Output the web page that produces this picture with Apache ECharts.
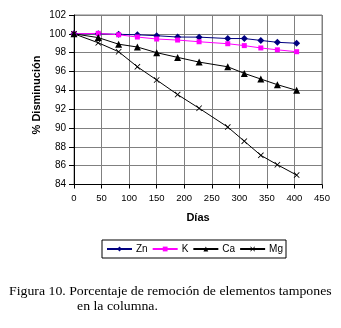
<!DOCTYPE html>
<html>
<head>
<meta charset="utf-8">
<script src="https://cdn.jsdelivr.net/npm/echarts@6/dist/echarts.min.js"></script>
<style>
  html, body { margin: 0; padding: 0; background: #fff; }
  #chart { width: 341px; height: 328px; }
</style>
</head>
<body>
<div id="chart"></div>
<script>
// Sampling days
const days = [0, 44, 81, 115, 150, 188, 227, 279, 309, 339, 369, 404];

// Percentage decrease per element
const zn = [100, 100, 99.95, 99.9, 99.8, 99.66, 99.65, 99.5, 99.5, 99.3, 99.1, 99.0];
const k  = [100, 100.05, 99.9, 99.66, 99.45, 99.34, 99.16, 98.95, 98.75, 98.5, 98.3, 98.1];
const ca = [100, 99.6, 98.9, 98.6, 98.0, 97.5, 97.0, 96.5, 95.8, 95.2, 94.6, 94.0];
const mg = [100, 99.05, 98.1, 96.5, 95.1, 93.55, 92.1, 90.1, 88.6, 87.1, 86.1, 85.0];

const seriesNames = ['Zn', 'K', 'Ca', 'Mg'];

const xTicks = { min: 0, max: 450, interval: 50 };
const yTicks = { min: 84, max: 102, interval: 2 };

const yTitle = '% Disminución';
const xTitle = 'Días';
const captionLines = [
  'Figura 10. Porcentaje de remoción de elementos tampones',
  'en la columna.'
];

const sans = 'Arial, "Liberation Sans", sans-serif';
const serif = '"Liberation Serif", "Times New Roman", serif';
const crossPath = 'path://M0,1L1,0L5,4L9,0L10,1L6,5L10,9L9,10L5,6L1,10L0,9L4,5Z';

function pairs(vals) {
  return days.map((d, i) => [d, vals[i]]);
}

function lineSeries(name, vals, color, symbol, size) {
  return {
    name: name,
    type: 'line',
    data: pairs(vals),
    symbol: symbol,
    symbolSize: size,
    showAllSymbol: true,
    lineStyle: { color: color, width: 1 },
    itemStyle: { color: color },
    emphasis: { disabled: true },
    animation: false
  };
}

const chart = echarts.init(document.getElementById('chart'), null, { renderer: 'canvas' });

chart.setOption({
  backgroundColor: '#fff',
  animation: false,
  textStyle: { fontFamily: sans },
  grid: {
    left: 74, right: 19, top: 15, bottom: 143.5,
    show: true, borderColor: '#808080', borderWidth: 1
  },
  xAxis: {
    type: 'value',
    min: xTicks.min, max: xTicks.max, interval: xTicks.interval,
    name: xTitle,
    nameLocation: 'middle',
    nameGap: 28,
    nameTextStyle: { fontSize: 11, fontWeight: 'bold', color: '#000', fontFamily: sans },
    axisLine: { show: true, onZero: false, lineStyle: { color: '#000', width: 1 } },
    axisTick: { show: true, length: 4, lineStyle: { color: '#000' } },
    axisLabel: { fontSize: 9.5, color: '#000', margin: 9 },
    splitLine: { show: true, lineStyle: { color: '#808080', width: 1 } }
  },
  yAxis: {
    type: 'value',
    min: yTicks.min, max: yTicks.max, interval: yTicks.interval,
    axisLine: { show: true, onZero: false, lineStyle: { color: '#000', width: 1 } },
    axisTick: { show: true, length: 5, lineStyle: { color: '#000' } },
    axisLabel: { fontSize: 10, color: '#000', margin: 8 },
    splitLine: { show: true, lineStyle: { color: '#808080', width: 1 } }
  },
  legend: {
    data: seriesNames,
    left: 102, top: 240,
    padding: [4, 3, 4, 4],
    itemGap: 4,
    itemWidth: 25, itemHeight: 6,
    borderColor: '#000', borderWidth: 1,
    textStyle: { fontSize: 10, color: '#000', padding: [0, 0, 0, -1] },
    selectedMode: false
  },
  graphic: [
    {
      type: 'text',
      x: 37, y: 95,
      rotation: Math.PI / 2,
      style: {
        text: yTitle,
        fontSize: 11, fontWeight: 'bold', fontFamily: sans, fill: '#000',
        align: 'center', verticalAlign: 'middle'
      }
    },
    {
      type: 'text',
      x: 9, y: 286,
      scaleX: 1.15,
      style: {
        text: captionLines[0],
        fontSize: 12, fontFamily: serif, fill: '#000',
        align: 'left', verticalAlign: 'top'
      }
    },
    {
      type: 'text',
      x: 77, y: 301,
      scaleX: 1.15,
      style: {
        text: captionLines[1],
        fontSize: 12, fontFamily: serif, fill: '#000',
        align: 'left', verticalAlign: 'top'
      }
    }
  ],
  series: [
    lineSeries('Zn', zn, '#000080', 'diamond', 7),
    lineSeries('K', k, '#ff00ff', 'rect', 5),
    lineSeries('Ca', ca, '#000000', 'triangle', 7),
    lineSeries('Mg', mg, '#000000', crossPath, 6)
  ]
});
</script>
</body>
</html>
